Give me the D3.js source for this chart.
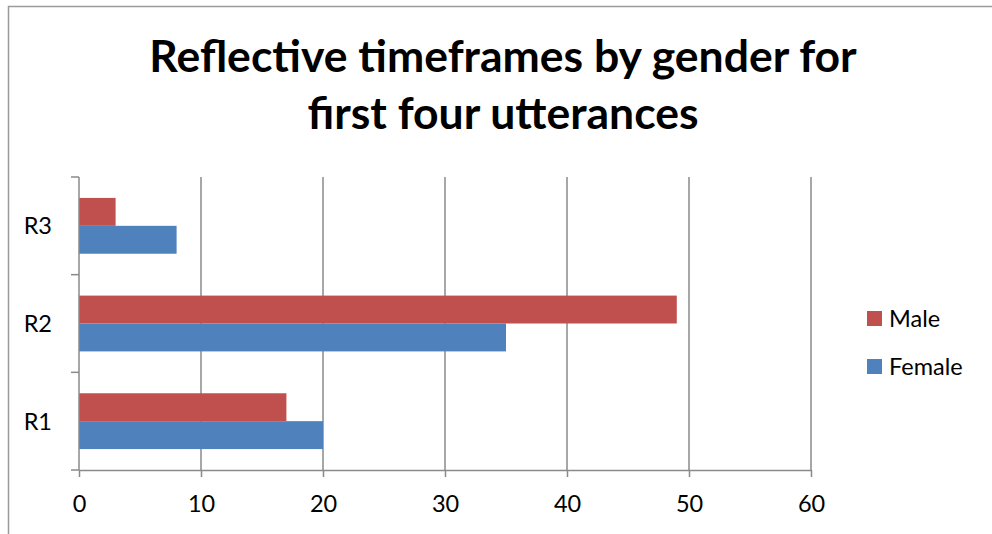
<html>
<head>
  <meta charset="utf-8">
  <title>Reflective timeframes by gender</title>
  <script src="https://d3js.org/d3.v7.min.js"></script>
  <style>
    html, body { margin: 0; padding: 0; background: #fff; overflow: hidden; }
    svg { display: block; font-family: Lato, "Open Sans", sans-serif; }
  </style>
</head>
<body>
  <svg width="992" height="534"></svg>
  <script>
    // chart data
    const categories = ["R3", "R2", "R1"];
    const seriesNames = ["Male", "Female"];
    const maleValues = [3, 49, 17];
    const femaleValues = [8, 35, 20];
    const xTicks = [0, 10, 20, 30, 40, 50, 60];
    const titleLines = ["Reflective timeframes by gender for", "first four utterances"];

    const colors = { Male: "#C0504D", Female: "#4F81BD" };
    const gridColor = "#8a8a8a";
    const labelSize = 23.5;

    const rows = categories.map((c, i) => ({
      cat: c,
      Male: maleValues[i],
      Female: femaleValues[i]
    }));

    const svg = d3.select("svg");

    // outer chart border (cropped on right/bottom)
    svg.append("rect")
      .attr("x", 8.5).attr("y", 6.5)
      .attr("width", 1000).attr("height", 540)
      .attr("fill", "none")
      .attr("stroke", "#9a9a9a")
      .attr("stroke-width", 1.5);

    // title
    svg.append("text")
      .attr("x", 503)
      .attr("font-weight", "bold")
      .attr("font-size", 44.5)
      .attr("text-anchor", "middle")
      .attr("fill", "#000")
      .selectAll("tspan")
      .data(titleLines)
      .join("tspan")
      .attr("x", 503)
      .attr("y", (d, i) => 72 + i * 57)
      .text(d => d);

    const plot = { left: 79, right: 811, top: 177, bottom: 470 };

    const x = d3.scaleLinear()
      .domain([0, 60])
      .range([plot.left, plot.right]);

    const y = d3.scaleBand()
      .domain(categories)
      .range([plot.top, plot.bottom])
      .padding(0);

    const ySub = d3.scaleBand()
      .domain(seriesNames)
      .range([0, y.bandwidth()])
      .paddingInner(0)
      .paddingOuter(0.75);

    // vertical gridlines
    svg.append("g")
      .selectAll("line")
      .data(xTicks.slice(1))
      .join("line")
      .attr("x1", d => x(d)).attr("x2", d => x(d))
      .attr("y1", plot.top).attr("y2", plot.bottom)
      .attr("stroke", gridColor)
      .attr("stroke-width", 1.5);

    // bars
    svg.append("g")
      .selectAll("g")
      .data(rows)
      .join("g")
      .attr("transform", d => `translate(0,${y(d.cat)})`)
      .selectAll("rect")
      .data(d => seriesNames.map(s => ({ s: s, v: d[s] })))
      .join("rect")
      .attr("x", x(0))
      .attr("y", d => ySub(d.s))
      .attr("width", d => x(d.v) - x(0))
      .attr("height", ySub.bandwidth())
      .attr("fill", d => colors[d.s]);

    // x axis
    const xAxis = svg.append("g")
      .attr("transform", `translate(0,${plot.bottom})`)
      .call(d3.axisBottom(x).tickValues(xTicks).tickSizeInner(7).tickSizeOuter(0).tickPadding(18));
    xAxis.select(".domain").attr("stroke", gridColor).attr("stroke-width", 1.5);
    xAxis.selectAll(".tick line").attr("stroke", gridColor).attr("stroke-width", 1.5);
    xAxis.selectAll(".tick text")
      .attr("font-size", labelSize)
      .attr("font-family", "Lato, sans-serif")
      .attr("fill", "#000");

    // y axis line and ticks at band boundaries
    const yAxis = svg.append("g");
    yAxis.append("line")
      .attr("x1", plot.left).attr("x2", plot.left)
      .attr("y1", plot.top).attr("y2", plot.bottom)
      .attr("stroke", gridColor).attr("stroke-width", 1.5);
    yAxis.selectAll(".ytick")
      .data(categories.map(c => y(c)).concat([plot.bottom]))
      .join("line")
      .attr("class", "ytick")
      .attr("x1", plot.left - 8).attr("x2", plot.left)
      .attr("y1", d => d).attr("y2", d => d)
      .attr("stroke", gridColor).attr("stroke-width", 1.5);
    yAxis.selectAll(".ylabel")
      .data(categories)
      .join("text")
      .attr("class", "ylabel")
      .attr("x", 52)
      .attr("y", d => y(d) + y.bandwidth() / 2)
      .attr("dy", "0.36em")
      .attr("text-anchor", "end")
      .attr("font-size", labelSize)
      .attr("fill", "#000")
      .text(d => d);

    // legend
    const legend = svg.append("g")
      .selectAll("g")
      .data(seriesNames)
      .join("g")
      .attr("transform", (d, i) => `translate(867,${311 + i * 48})`);
    legend.append("rect")
      .attr("width", 15).attr("height", 15)
      .attr("fill", d => colors[d]);
    legend.append("text")
      .attr("x", 22).attr("y", 15.5)
      .attr("font-size", labelSize)
      .attr("fill", "#000")
      .text(d => d);
  </script>
</body>
</html>
